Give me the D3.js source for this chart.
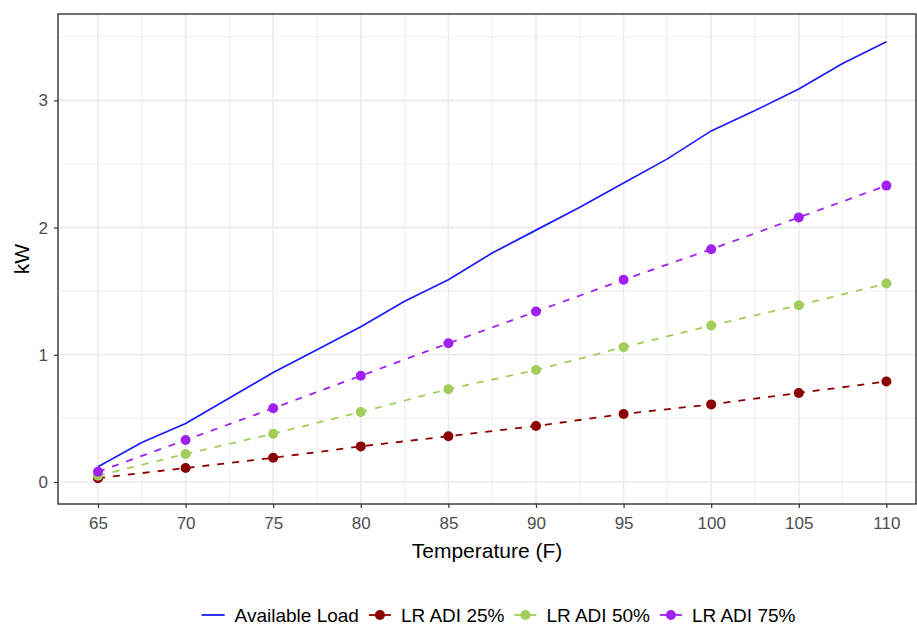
<!DOCTYPE html>
<html>
<head>
<meta charset="utf-8">
<script src="https://cdn.jsdelivr.net/npm/d3@7/dist/d3.min.js"></script>
<style>
  body { margin: 0; background: #fff; }
  text { font-family: "Liberation Sans", Arial, sans-serif; }
</style>
</head>
<body>
<svg id="chart" width="917" height="625"></svg>
<script>
// Temperatures (F) where the LR ADI runs were measured
const temps = [65, 70, 75, 80, 85, 90, 95, 100, 105, 110];
// Available load curve, sampled more finely
const loadTemps = [65, 67.5, 70, 72.5, 75, 77.5, 80, 82.5, 85, 87.5, 90, 92.5, 95, 97.5, 100, 102.5, 105, 107.5, 110];
const availableLoad = [0.12, 0.31, 0.46, 0.66, 0.86, 1.04, 1.22, 1.42, 1.59, 1.80, 1.98, 2.16, 2.35, 2.54, 2.76, 2.92, 3.09, 3.29, 3.46];
// LR ADI series (kW)
const adi25 = [0.03, 0.11, 0.19, 0.28, 0.36, 0.44, 0.535, 0.61, 0.70, 0.79];
const adi50 = [0.05, 0.22, 0.38, 0.55, 0.73, 0.88, 1.06, 1.23, 1.39, 1.56];
const adi75 = [0.08, 0.33, 0.58, 0.835, 1.09, 1.34, 1.59, 1.83, 2.08, 2.33];
// Axis ticks
const xTicks = [65, 70, 75, 80, 85, 90, 95, 100, 105, 110];
const xMinor = [67.5, 72.5, 77.5, 82.5, 87.5, 92.5, 97.5, 102.5, 107.5];
const yTicks = [0, 1, 2, 3];
const yMinor = [0.5, 1.5, 2.5, 3.5];
const seriesNames = ["Available Load", "LR ADI 25%", "LR ADI 50%", "LR ADI 75%"];
const seriesColors = ["#1a1aff", "#8b0000", "#a2cd5a", "#a020f0"];

const svg = d3.select("#chart");
const panel = { left: 58, right: 916, top: 14, bottom: 504 };

const x = d3.scaleLinear().domain([62.717, 111.69]).range([panel.left, panel.right]);
const y = d3.scaleLinear().domain([-0.173, 3.679]).range([panel.bottom, panel.top]);

const g = svg.append("g");

// grid
const grid = g.append("g");
grid.selectAll(".ym").data(yMinor).join("line")
  .attr("x1", panel.left).attr("x2", panel.right)
  .attr("y1", d => y(d)).attr("y2", d => y(d))
  .attr("stroke", "#f1f1f1").attr("stroke-width", 1.2);
grid.selectAll(".xm").data(xMinor).join("line")
  .attr("y1", panel.top).attr("y2", panel.bottom)
  .attr("x1", d => x(d)).attr("x2", d => x(d))
  .attr("stroke", "#f1f1f1").attr("stroke-width", 1.2);
grid.selectAll(".yM").data(yTicks).join("line")
  .attr("x1", panel.left).attr("x2", panel.right)
  .attr("y1", d => y(d)).attr("y2", d => y(d))
  .attr("stroke", "#ebebeb").attr("stroke-width", 1.6);
grid.selectAll(".xM").data(xTicks).join("line")
  .attr("y1", panel.top).attr("y2", panel.bottom)
  .attr("x1", d => x(d)).attr("x2", d => x(d))
  .attr("stroke", "#ebebeb").attr("stroke-width", 1.6);

// available load line
const line = d3.line().x(d => x(d[0])).y(d => y(d[1]));
g.append("path")
  .datum(loadTemps.map((t, i) => [t, availableLoad[i]]))
  .attr("d", line)
  .attr("fill", "none")
  .attr("stroke", seriesColors[0])
  .attr("stroke-width", 1.7);

// LR ADI series
const adiSeries = [adi25, adi50, adi75];
adiSeries.forEach((vals, k) => {
  const col = seriesColors[k + 1];
  const pts = temps.map((t, i) => [t, vals[i]]);
  g.append("path").datum(pts).attr("d", line)
    .attr("fill", "none").attr("stroke", col)
    .attr("stroke-width", 1.8).attr("stroke-dasharray", "7,8");
  g.selectAll(null).data(pts).join("circle")
    .attr("cx", d => x(d[0])).attr("cy", d => y(d[1]))
    .attr("r", 5).attr("fill", col);
});

// panel border
g.append("rect")
  .attr("x", panel.left).attr("y", panel.top)
  .attr("width", panel.right - panel.left).attr("height", panel.bottom - panel.top)
  .attr("fill", "none").attr("stroke", "#333").attr("stroke-width", 1.4);

// axes
const xAxis = d3.axisBottom(x).tickValues(xTicks).tickSize(4).tickPadding(9).tickFormat(d3.format("d"));
const yAxis = d3.axisLeft(y).tickValues(yTicks).tickSize(4).tickPadding(6).tickFormat(d3.format("d"));
const xg = svg.append("g").attr("transform", `translate(0,${panel.bottom})`).call(xAxis);
const yg = svg.append("g").attr("transform", `translate(${panel.left},0)`).call(yAxis);
[xg, yg].forEach(a => {
  a.select(".domain").remove();
  a.selectAll(".tick line").attr("stroke", "#333").attr("stroke-width", 1.2);
  a.selectAll(".tick text").attr("fill", "#4d4d4d").style("font-size", "17px")
    .style("font-family", "'Liberation Sans', Arial, sans-serif");
});

// axis titles
svg.append("text")
  .attr("x", (panel.left + panel.right) / 2).attr("y", 558)
  .attr("text-anchor", "middle").style("font-size", "21px").attr("fill", "#000")
  .text("Temperature (F)");
svg.append("text")
  .attr("transform", `translate(29,${(panel.top + panel.bottom) / 2}) rotate(-90)`)
  .attr("text-anchor", "middle").style("font-size", "21px").attr("fill", "#000")
  .text("kW");

// legend
const legend = svg.append("g");
const keyW = 30, keyGap = 6, itemGap = 6, legendY = 615;
const items = seriesNames.map((name, i) => {
  const item = legend.append("g");
  const t = item.append("text").attr("x", keyW + keyGap).attr("y", legendY + 7)
    .style("font-size", "19px").attr("fill", "#000").text(name);
  return { item, w: keyW + keyGap + t.node().getComputedTextLength(), i };
});
const totalW = d3.sum(items, d => d.w) + itemGap * (items.length - 1);
let cx = 497 - totalW / 2;
items.forEach(({ item, w, i }) => {
  item.attr("transform", `translate(${cx},0)`);
  const col = seriesColors[i];
  if (i === 0) {
    item.append("line").attr("x1", 3).attr("x2", keyW - 4)
      .attr("y1", legendY).attr("y2", legendY)
      .attr("stroke", col).attr("stroke-width", 1.8);
  } else {
    item.append("line").attr("x1", 4).attr("x2", keyW - 4)
      .attr("y1", legendY).attr("y2", legendY)
      .attr("stroke", col).attr("stroke-width", 1.8);
    item.append("circle").attr("cx", keyW / 2).attr("cy", legendY).attr("r", 5).attr("fill", col);
  }
  cx += w + itemGap;
});
</script>
</body>
</html>
